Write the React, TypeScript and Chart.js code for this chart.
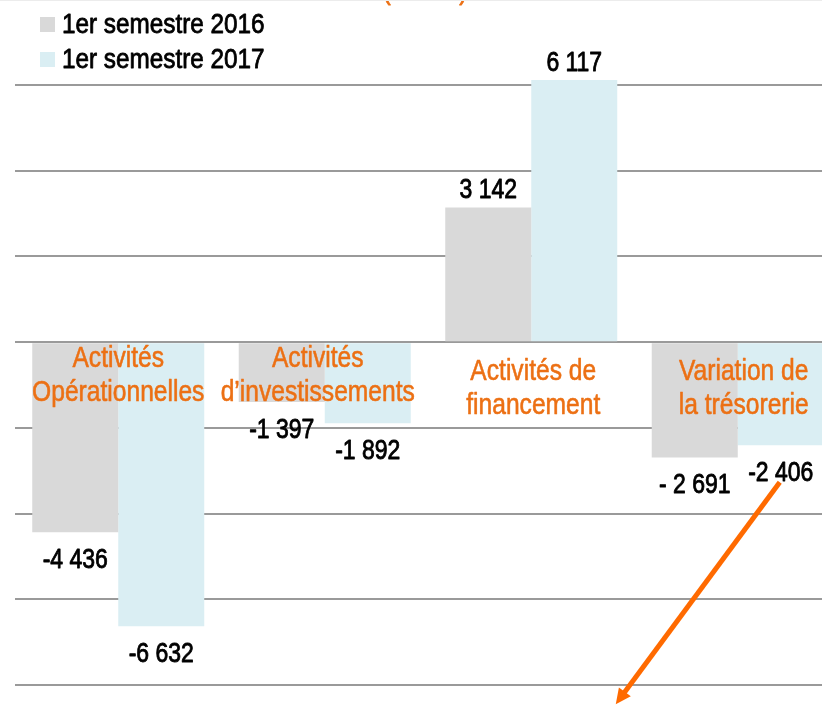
import React, { useEffect, useRef } from "react";
import { Chart, registerables } from "chart.js";

Chart.register(...registerables);

// ---------- data ----------
const categories: string[][] = [
  ["Activités", "Opérationnelles"],
  ["Activités", "d’investissements"],
  ["Activités de", "financement"],
  ["Variation de", "la trésorerie"],
];
const seriesNames = ["1er semestre 2016", "1er semestre 2017"];
const values2016 = [-4436, -1397, 3142, -2691];
const values2017 = [-6632, -1892, 6117, -2406];
const valueLabels2016 = ["-4 436", "-1 397", "3 142", "- 2 691"];
const valueLabels2017 = ["-6 632", "-1 892", "6 117", "-2 406"];
const yMin = -8000;
const yMax = 6000;
const yStep = 2000;
const titleText = "(en M€)";

// ---------- styles ----------
const FONT = '"Liberation Sans", Arial, sans-serif';
const NARROW = 0.82; // horizontal squeeze to mimic a narrow face
const COLORS = ["#d9d9d9", "#daeef3"];
const ORANGE = "#ec7014";
const ARROW = "#ff6a00";
const CANVAS_W = 860;
const CANVAS_H = 705;
// per-category label nudges (x, y of first baseline below zero line)
const catLabelDx = [0, -7, 2, 6];
const catLabelDy = [25, 25, 38, 38];

function narrowText(
  ctx: CanvasRenderingContext2D,
  text: string,
  x: number,
  y: number,
  size: number,
  align: CanvasTextAlign,
  squeeze = NARROW,
  weightStroke = 0.9
) {
  ctx.save();
  ctx.translate(x, y);
  ctx.scale(squeeze, 1);
  ctx.font = `${size}px ${FONT}`;
  ctx.textAlign = align;
  ctx.textBaseline = "alphabetic";
  ctx.fillText(text, 0, 0);
  if (weightStroke > 0) {
    ctx.strokeStyle = ctx.fillStyle as string;
    ctx.lineWidth = weightStroke;
    ctx.lineJoin = "round";
    ctx.strokeText(text, 0, 0);
  }
  ctx.restore();
}

const overlayPlugin = {
  id: "overlay",
  afterDatasetsDraw(chart: any) {
    const ctx: CanvasRenderingContext2D = chart.ctx;
    const x = chart.scales.x;
    const y = chart.scales.y;
    const zeroY = y.getPixelForValue(0);
    ctx.save();

    // category labels on the zero line
    ctx.fillStyle = ORANGE;
    categories.forEach((lines, i) => {
      const cx = x.getPixelForValue(i) + catLabelDx[i];
      lines.forEach((ln, j) => {
        narrowText(ctx, ln, cx, zeroY + catLabelDy[i] + j * 34, 30, "center", NARROW, 0.6);
      });
    });

    // value labels
    ctx.fillStyle = "#000";
    const lbls = [valueLabels2016, valueLabels2017];
    chart.data.datasets.forEach((ds: any, di: number) => {
      const meta = chart.getDatasetMeta(di);
      meta.data.forEach((bar: any, i: number) => {
        const v = ds.data[i];
        const ty = v >= 0 ? bar.y - 9 : bar.y + 36;
        narrowText(ctx, lbls[di][i], bar.x, ty, 28, "center", NARROW, 0.9);
      });
    });

    // legend
    seriesNames.forEach((name, i) => {
      const top = 17 + i * 35;
      ctx.fillStyle = COLORS[i];
      ctx.fillRect(40, top, 15, 15);
      ctx.fillStyle = "#000";
      narrowText(ctx, name, 62, top + 16, 27, "left", 0.9, 0.8);
    });

    // clipped title at the very top
    ctx.fillStyle = ORANGE;
    narrowText(ctx, titleText, 425, -1, 30, "center", NARROW, 0.8);
    ctx.fillStyle = "#ececec";
    ctx.fillRect(0, 0, CANVAS_W, 1);

    // arrow from the last bar's label
    const meta = chart.getDatasetMeta(1);
    const bar = meta.data[3];
    const sx = bar.x - 1;
    const sy = bar.y + 37;
    const ex = sx - 164;
    const ey = sy + 222;
    ctx.strokeStyle = ARROW;
    ctx.fillStyle = ARROW;
    ctx.lineWidth = 5;
    ctx.lineCap = "butt";
    const ang = Math.atan2(ey - sy, ex - sx);
    const headLen = 17;
    const lx = ex - Math.cos(ang) * headLen * 0.8;
    const ly = ey - Math.sin(ang) * headLen * 0.8;
    ctx.beginPath();
    ctx.moveTo(sx, sy);
    ctx.lineTo(lx, ly);
    ctx.stroke();
    ctx.beginPath();
    ctx.moveTo(ex, ey);
    ctx.lineTo(ex - headLen * Math.cos(ang - 0.45), ey - headLen * Math.sin(ang - 0.45));
    ctx.lineTo(ex - headLen * Math.cos(ang + 0.45), ey - headLen * Math.sin(ang + 0.45));
    ctx.closePath();
    ctx.fill();

    ctx.restore();
  },
};

export default function App() {
  const ref = useRef<HTMLCanvasElement | null>(null);
  useEffect(() => {
    if (!ref.current) return;
    const chart = new Chart(ref.current, {
      type: "bar",
      data: {
        labels: categories.map((c) => c.join(" ")),
        datasets: [
          { label: seriesNames[0], data: values2016, backgroundColor: COLORS[0], borderWidth: 0, clip: false as any },
          { label: seriesNames[1], data: values2017, backgroundColor: COLORS[1], borderWidth: 0, clip: false as any },
        ],
      },
      options: {
        responsive: false,
        animation: false,
        devicePixelRatio: 1,
        layout: { padding: { left: 15, right: 19, top: 85, bottom: 20 } },
        datasets: { bar: { categoryPercentage: 0.833, barPercentage: 1 } },
        plugins: { legend: { display: false }, tooltip: { enabled: false }, title: { display: false } },
        scales: {
          x: { display: false },
          y: {
            min: yMin,
            max: yMax,
            ticks: { display: false, stepSize: yStep },
            grid: { color: "#9a9a9a", lineWidth: 2, drawTicks: false },
            border: { display: false },
          },
        },
      },
      plugins: [overlayPlugin],
    });
    return () => chart.destroy();
  }, []);
  return (
    <div style={{ position: "fixed", left: 0, top: 0, width: 822, height: 705, overflow: "hidden", background: "#fff" }}>
      <canvas ref={ref} width={CANVAS_W} height={CANVAS_H} style={{ width: CANVAS_W, height: CANVAS_H, display: "block" }} />
    </div>
  );
}
